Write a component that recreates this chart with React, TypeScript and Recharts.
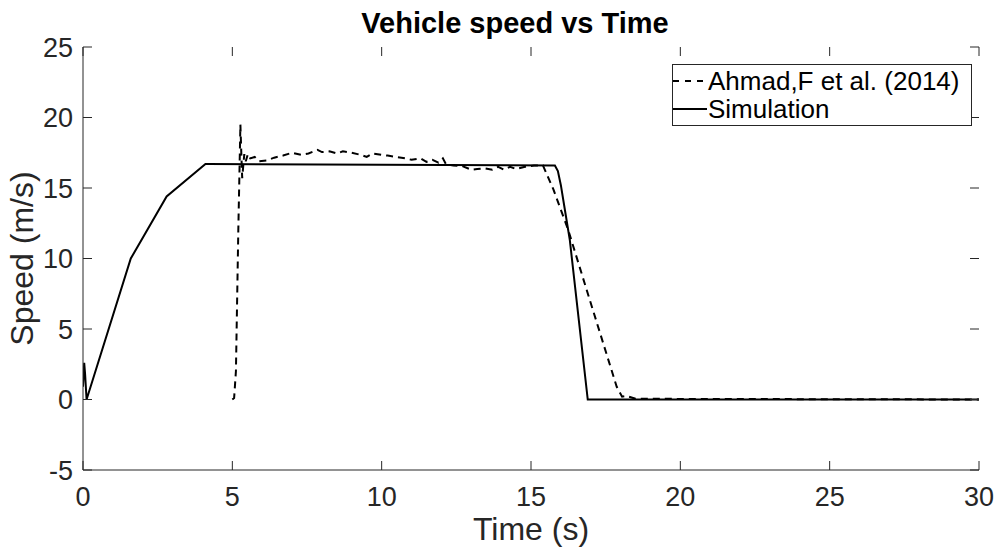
import { Label, Line, LineChart, XAxis, YAxis } from 'recharts'

const FONT = '"Liberation Sans", Arial, Helvetica, sans-serif'
const AXIS_COLOR = '#262626'
const TICK_LEN = 9

const CHART_W = 998
const CHART_H = 555
const MARGIN = { top: 47, right: 19, bottom: 0, left: 0 }
const PLOT_TOP = MARGIN.top
const PLOT_RIGHT = CHART_W - MARGIN.right

const X_TICKS = [0, 5, 10, 15, 20, 25, 30]
const Y_TICKS = [-5, 0, 5, 10, 15, 20, 25]

// Simulation (solid)
const SIM_T = [0, 0.04, 0.07, 0.12, 1.6, 2.8, 4.1, 4.2, 15.8, 15.9, 16.0, 16.1, 16.3, 16.9, 30]
const SIM_V = [0.9, 2.6, 1.8, 0, 10.0, 14.4, 16.7, 16.7, 16.6, 16.2, 15.2, 13.9, 11.3, 0, 0]

// Ahmad,F et al. (2014) (dashed)
const REF_T = [
  5.0, 5.06, 5.12, 5.2, 5.27, 5.3, 5.33, 5.4, 5.45, 5.52, 5.6, 5.75, 5.9, 6.15, 6.4, 6.7, 7.0, 7.3,
  7.55, 7.85, 8.0, 8.25, 8.5, 8.7, 9.0, 9.3, 9.5, 9.7, 10.0, 10.2, 10.5, 10.8, 11.0, 11.3, 11.5, 11.7,
  11.9, 12.05, 12.15, 12.4, 12.7, 13.0, 13.2, 13.45, 13.7, 13.9, 14.1, 14.3, 14.5, 14.8, 15.1, 15.4,
  15.75, 16.25, 16.86, 17.87, 18.05, 18.2, 18.5, 30,
]
const REF_V = [
  0, 0.1, 2.0, 12.0, 19.5, 17.5, 15.7, 17.4, 16.9, 17.4, 17.1, 17.2, 16.9, 16.95, 17.15, 17.3, 17.5, 17.35,
  17.45, 17.7, 17.55, 17.6, 17.45, 17.6, 17.5, 17.35, 17.2, 17.45, 17.35, 17.3, 17.2, 17.1, 17.0, 17.1, 16.85, 17.0,
  16.8, 17.1, 16.7, 16.6, 16.55, 16.3, 16.35, 16.4, 16.3, 16.5, 16.3, 16.5, 16.35, 16.5, 16.6, 16.6,
  14.9, 12.0, 7.8, 0.9, 0.2, 0.25, 0.05, 0,
]

const simData = SIM_T.map((t, i) => ({ t, v: SIM_V[i] }))
const refData = REF_T.map((t, i) => ({ t, v: REF_V[i] }))

// MATLAB-style inward ticks, on both the bottom and top edges
function BottomTick({ x, y, payload }: any) {
  const base = y - 17
  return (
    <g>
      <line x1={x} y1={base} x2={x} y2={base - TICK_LEN} stroke={AXIS_COLOR} strokeWidth={1} />
      <line x1={x} y1={PLOT_TOP} x2={x} y2={PLOT_TOP + TICK_LEN} stroke={AXIS_COLOR} strokeWidth={1} />
      <text x={x} y={y} dy="0.71em" textAnchor="middle" fill={AXIS_COLOR} fontSize={27} fontFamily={FONT}>
        {payload.value}
      </text>
    </g>
  )
}

// inward ticks on left and right edges
function LeftTick({ x, y, payload }: any) {
  const base = x + 10
  return (
    <g>
      <line x1={base} y1={y} x2={base + TICK_LEN} y2={y} stroke={AXIS_COLOR} strokeWidth={1} />
      <line x1={PLOT_RIGHT} y1={y} x2={PLOT_RIGHT - TICK_LEN} y2={y} stroke={AXIS_COLOR} strokeWidth={1} />
      <text x={x} y={y} dy="0.355em" textAnchor="end" fill={AXIS_COLOR} fontSize={27} fontFamily={FONT}>
        {payload.value}
      </text>
    </g>
  )
}

function LegendBox() {
  const rows = [
    { name: 'Ahmad,F et al. (2014)', dash: '6 6' },
    { name: 'Simulation', dash: undefined },
  ]
  return (
    <div
      style={{
        position: 'absolute',
        left: 672,
        top: 64,
        width: 300,
        height: 62,
        boxSizing: 'border-box',
        border: `1px solid ${AXIS_COLOR}`,
        background: '#fff',
        fontFamily: FONT,
        fontSize: 26,
        color: '#000',
        paddingTop: 2,
      }}
    >
      {rows.map((r) => (
        <div key={r.name} style={{ display: 'flex', alignItems: 'center', height: 28 }}>
          <svg width={35} height={28} style={{ flex: 'none' }}>
            <line x1={0} y1={14} x2={34} y2={14} stroke="#000" strokeWidth={2} strokeDasharray={r.dash} />
          </svg>
          <span style={{ whiteSpace: 'nowrap', lineHeight: '28px' }}>{r.name}</span>
        </div>
      ))}
    </div>
  )
}

export default function App() {
  return (
    <div style={{ position: 'absolute', left: 0, top: 0, width: CHART_W, height: CHART_H, background: '#fff' }}>
      <LineChart width={CHART_W} height={CHART_H} margin={MARGIN}>
        <text x={515} y={33} textAnchor="middle" fontSize={29} fontWeight="bold" fontFamily={FONT} fill="#000">
          Vehicle speed vs Time
        </text>
        <XAxis
          dataKey="t"
          type="number"
          domain={[0, 30]}
          ticks={X_TICKS}
          interval={0}
          allowDataOverflow
          height={85}
          tickSize={0}
          tickMargin={17}
          tickLine={false}
          tick={<BottomTick />}
          axisLine={{ stroke: AXIS_COLOR, strokeWidth: 1 }}
        >
          <Label
            value="Time (s)"
            position="insideBottom"
            offset={15}
            style={{ fontSize: 32, fontFamily: FONT, fill: AXIS_COLOR }}
          />
        </XAxis>
        <XAxis
          xAxisId="top"
          orientation="top"
          type="number"
          domain={[0, 30]}
          height={0}
          tick={false}
          tickLine={false}
          axisLine={{ stroke: AXIS_COLOR, strokeWidth: 1 }}
        />
        <YAxis
          dataKey="v"
          type="number"
          domain={[-5, 25]}
          ticks={Y_TICKS}
          interval={0}
          allowDataOverflow
          width={83}
          tickSize={0}
          tickMargin={10}
          tickLine={false}
          tick={<LeftTick />}
          axisLine={{ stroke: AXIS_COLOR, strokeWidth: 1 }}
        >
          <Label
            value="Speed (m/s)"
            position="insideLeft"
            angle={-90}
            offset={22}
            style={{ fontSize: 32, fontFamily: FONT, fill: AXIS_COLOR, textAnchor: 'middle' }}
          />
        </YAxis>
        <YAxis
          yAxisId="right"
          orientation="right"
          type="number"
          domain={[-5, 25]}
          width={0}
          tick={false}
          tickLine={false}
          axisLine={{ stroke: AXIS_COLOR, strokeWidth: 1 }}
        />
        <Line
          data={refData}
          dataKey="v"
          name="Ahmad,F et al. (2014)"
          type="linear"
          stroke="#000"
          strokeWidth={2}
          strokeDasharray="7 5"
          dot={false}
          activeDot={false}
          isAnimationActive={false}
        />
        <Line
          data={simData}
          dataKey="v"
          name="Simulation"
          type="linear"
          stroke="#000"
          strokeWidth={2}
          dot={false}
          activeDot={false}
          isAnimationActive={false}
        />
      </LineChart>
      <LegendBox />
    </div>
  )
}
